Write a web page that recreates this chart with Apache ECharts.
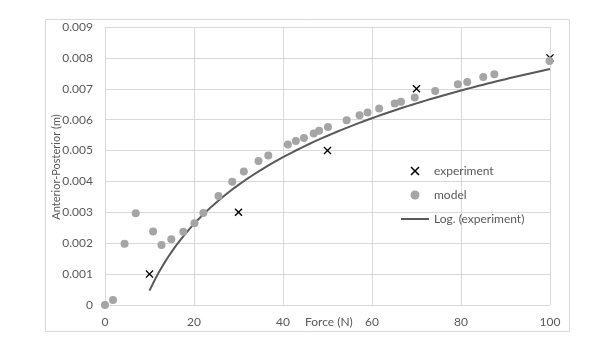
<!DOCTYPE html>
<html><head><meta charset="utf-8">
<script src="https://cdn.jsdelivr.net/npm/echarts@6/dist/echarts.min.js"></script>
<style>html,body{margin:0;padding:0;background:#fff}#c{width:610px;height:340px}</style>
</head><body><div id="c"></div>
<script>
const experimentX = [10, 30, 50, 70, 100];
const experimentY = [0.001, 0.003, 0.005, 0.007, 0.008];
const modelX = [0, 1.8, 4.4, 6.9, 10.8, 12.7, 14.9, 17.6, 20.1, 22.1, 25.5, 28.6, 31.2, 34.5, 36.7, 41.1, 42.9, 44.7, 46.9, 48.1, 50.1, 54.3, 57.2, 59.0, 61.6, 65.1, 66.5, 69.6, 74.2, 79.3, 81.4, 85.0, 87.5, 99.9];
const modelY = [0, 0.00016, 0.00198, 0.00297, 0.00238, 0.00194, 0.00213, 0.00237, 0.00265, 0.00298, 0.00353, 0.00399, 0.00432, 0.00466, 0.00484, 0.00520, 0.00531, 0.00541, 0.00555, 0.00564, 0.00576, 0.00598, 0.00614, 0.00623, 0.00636, 0.00652, 0.00658, 0.00672, 0.00693, 0.00715, 0.00722, 0.00738, 0.00747, 0.00790];
const seriesNames = ['experiment', 'model', 'Log. (experiment)'];
const xAxisTitle = 'Force (N)';
const yAxisTitle = 'Anterior-Posterior (m)';

// Logarithmic trendline (least squares fit y = a ln x + b) of the experiment series
const lx = experimentX.map(Math.log);
const mx = lx.reduce((s, v) => s + v, 0) / lx.length;
const my = experimentY.reduce((s, v) => s + v, 0) / experimentY.length;
let sxy = 0, sxx = 0;
lx.forEach((v, i) => { sxy += (v - mx) * (experimentY[i] - my); sxx += (v - mx) * (v - mx); });
const a = sxy / sxx, b = my - a * mx;
const xMin = Math.min(...experimentX), xMax = Math.max(...experimentX);
const trend = [];
for (let k = 0; k <= 90; k++) { const x = xMin + (xMax - xMin) * k / 90; trend.push([x, a * Math.log(x) + b]); }

const FONT = 'Lato';
const TXT = '#595959';
const crossPath = 'path://M1.2,0 L5,3.8 L8.8,0 L10,1.2 L6.2,5 L10,8.8 L8.8,10 L5,6.2 L1.2,10 L0,8.8 L3.8,5 L0,1.2 Z';
const lineIcon = 'path://M0,0 L28,0 L28,2 L0,2 Z';

const chart = echarts.init(document.getElementById('c'), null, {renderer: 'canvas'});
chart.setOption({
  animation: false,
  backgroundColor: '#fff',
  grid: {left: 105, right: 60, top: 27, bottom: 35, containLabel: false},
  xAxis: {
    type: 'value', min: 0, max: 100, interval: 20,
    axisLine: {show: false}, axisTick: {show: false},
    splitLine: {lineStyle: {color: '#d9d9d9', width: 1}},
    axisLabel: {color: TXT, fontFamily: FONT, fontSize: 12, margin: 11}
  },
  yAxis: {
    type: 'value', min: 0, max: 0.009, interval: 0.001,
    axisLine: {show: false}, axisTick: {show: false},
    splitLine: {lineStyle: {color: '#d9d9d9', width: 1}},
    axisLabel: {color: TXT, fontFamily: FONT, fontSize: 12, margin: 12,
      formatter: v => v === 0 ? '0' : v.toFixed(3)}
  },
  legend: {
    orient: 'vertical', left: 401, top: 165, padding: 0,
    itemWidth: 28, itemHeight: 9, itemGap: 12,
    textStyle: {color: TXT, fontFamily: FONT, fontSize: 12},
    data: [seriesNames[0], seriesNames[1], {name: seriesNames[2], icon: lineIcon, itemStyle: {color: '#595959'}}]
  },
  graphic: [
    {type: 'rect', shape: {x: 45.5, y: 19.5, width: 524, height: 312}, style: {fill: 'none', stroke: '#d9d9d9', lineWidth: 1}, silent: true, z: -1},
    {type: 'text', left: 305, top: 316, style: {text: xAxisTitle, fill: TXT, font: '12px ' + FONT}},
    {type: 'text', x: 56, y: 167, rotation: Math.PI / 2, style: {text: yAxisTitle, fill: TXT, font: '11px ' + FONT, align: 'center', verticalAlign: 'middle'}}
  ],
  series: [
    {name: seriesNames[2], type: 'line', data: trend, showSymbol: false, symbol: 'none',
      lineStyle: {color: '#595959', width: 2}, itemStyle: {color: '#595959'}, z: 2},
    {name: seriesNames[0], type: 'scatter', data: experimentX.map((x, i) => [x, experimentY[i]]),
      symbol: crossPath, symbolSize: 8, symbolKeepAspect: true, itemStyle: {color: '#000', opacity: 1}, z: 3},
    {name: seriesNames[1], type: 'scatter', data: modelX.map((x, i) => [x, modelY[i]]),
      symbol: 'circle', symbolSize: 8, itemStyle: {color: '#a5a5a5', opacity: 1}, z: 4}
  ]
});
</script></body></html>
